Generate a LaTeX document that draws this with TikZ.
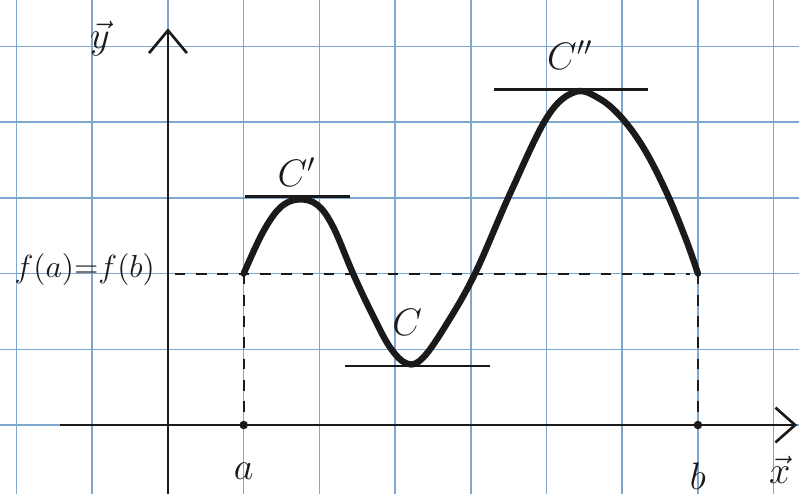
\documentclass[tikz,border=0pt]{standalone}
\usepackage{amsmath,amssymb}
\usepackage{tikz}
\usetikzlibrary{arrows.meta,positioning}
\definecolor{gridblue}{HTML}{7FA8D0}
\definecolor{ink}{HTML}{1A1A1A}

\begin{document}
\begin{tikzpicture}[
  lbl/.style={font=\Large, text=ink},
  axis/.style={draw=ink, line width=1pt},
  curve/.style={draw=ink, line width=2.4pt, line cap=round, line join=round},
  tangent/.style={draw=ink, line width=0.9pt},
  guide/.style={draw=ink, line width=0.8pt, dash pattern=on 4pt off 4pt}]
  \useasboundingbox[fill=white] (-2.219,-0.911) rectangle (8.335,5.614);
  \draw[gridblue, line width=0.6pt, step=1] (-2.219,-0.911) grid (8.335,5.614);

  \coordinate (ytop) at (0,5.24);
  \coordinate (ybot) at (0,-0.911);
  \coordinate (xleft) at (-1.43,0);
  \coordinate (xright) at (8.31,0);
  \draw[axis, -{Straight Barb[length=3mm,width=5mm]}] (ybot) -- (ytop);
  \draw[axis, -{Straight Barb[length=2.6mm,width=4.6mm]}] (xleft) -- (xright);

  \coordinate (A) at (1,2);
  \coordinate (B) at (7,2);
  \coordinate (Pa) at (1,0);
  \coordinate (Pb) at (7,0);
  \coordinate (Cp) at (1.72,2.98);
  \coordinate (Cm) at (3.16,0.81);
  \coordinate (Cpp) at (5.38,4.40);
  \coordinate (fl) at (0.09,2);
  \coordinate (fr) at (6.9,2);

  \draw[guide] (fl) -- (fr);
  \draw[guide] (A) -- (Pa);
  \draw[guide] (B) -- (Pb);
  \fill[ink] (Pa) circle (1.6pt);
  \fill[ink] (Pb) circle (1.6pt);

  \draw[tangent] (1.02,3.02) coordinate (t1l) -- (2.40,3.02) coordinate (t1r);
  \draw[tangent] (2.34,0.78) coordinate (t2l) -- (4.25,0.78) coordinate (t2r);
  \draw[tangent] (4.31,4.43) coordinate (t3l) -- (6.34,4.43) coordinate (t3r);

  \draw[curve] plot[smooth, tension=0.6] coordinates {(A) (1.25,2.54) (1.48,2.87)
    (Cp) (1.97,2.91) (2.18,2.62) (2.44,2.01) (2.67,1.52) (2.93,1.03) (Cm)
    (3.37,0.89) (3.69,1.35) (4.06,2.01) (4.52,3.06) (5.01,4.07) (Cpp)
    (5.70,4.31) (6.00,4.05) (6.30,3.63) (6.60,3.04) (6.85,2.43) (B)};

  \node[lbl] (lCp) at (1.70,3.34) {$C'$};
  \node[lbl] (lCm) at (3.16,1.36) {$C$};
  \node[lbl] (lCpp) at (5.31,4.89) {$C''$};
  \node[lbl, font=\large] (lf) at (-1.10,2.05) {$f(a){=}f(b)$};
  \node[lbl, below=0.38cm of Pa] (la) {$a$};
  \node[lbl, below=0.38cm of Pb] (lb) {$b$};
  \node[lbl] (lx) at (8.08,-0.59) {$\vec{x}$};
  \node[lbl] (ly) at (-0.90,5.11) {$\vec{y}$};
\end{tikzpicture}
\end{document}
